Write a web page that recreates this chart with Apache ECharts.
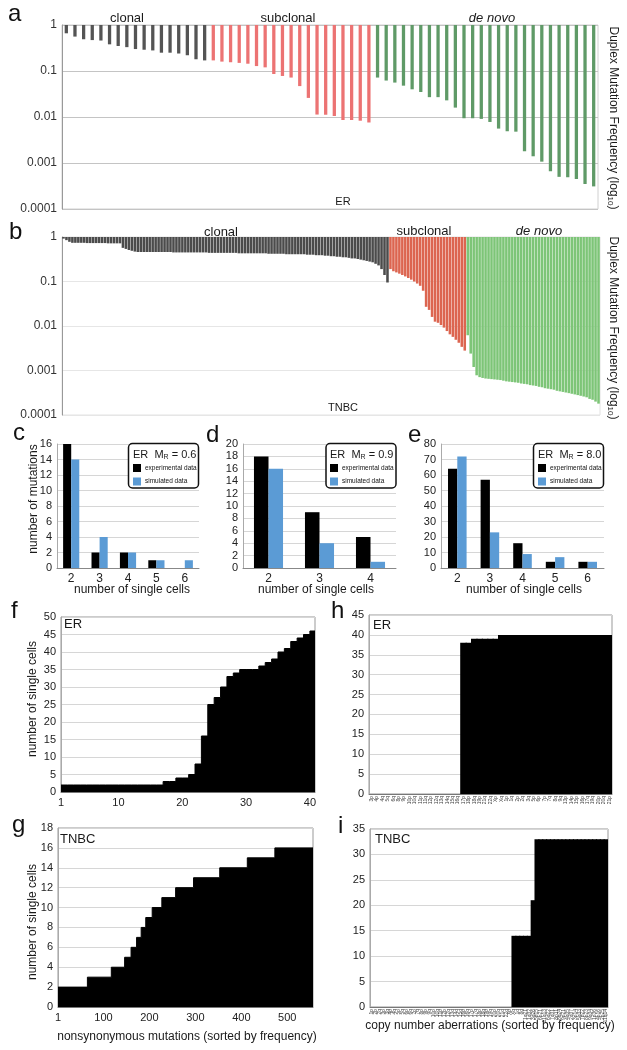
<!DOCTYPE html>
<html><head><meta charset="utf-8">
<script src="https://cdn.jsdelivr.net/npm/echarts@6/dist/echarts.min.js"></script>
<style>html,body{margin:0;padding:0;background:#fff}#c{width:627px;height:1050px}</style>
</head><body><div id="c"></div>
<script>
// ---------- DATA ----------
// a: ER duplex mutation frequency
const erClonal = [0.66,0.56,0.49,0.47,0.46,0.38,0.35,0.33,0.30,0.29,0.28,0.25,0.25,0.24,0.22,0.18,0.17];
const erSubclonal = [0.17,0.16,0.155,0.15,0.144,0.128,0.12,0.086,0.078,0.072,0.047,0.026,0.0113,0.0112,0.0105,0.0086,0.0086,0.0083,0.0076];
const erDeNovo = [0.072,0.062,0.056,0.048,0.040,0.035,0.027,0.027,0.023,0.016,0.0094,0.0094,0.0091,0.0078,0.0056,0.0049,0.0048,0.0018,0.0014,0.00107,0.00066,0.0005,0.00049,0.00045,0.00035,0.00031];
// b: TNBC duplex mutation frequency
const tnbcClonal = [
 0.92,0.85,0.78,
 0.74,0.74,0.74,0.74,0.74,0.73,0.73,0.73,0.73,0.73,0.73,0.73,0.72,0.72,0.72,0.72,0.72,
 0.57,0.54,0.51,0.49,0.47,
 0.46,0.46,0.46,0.46,0.46,0.46,0.46,0.46,0.46,0.46,0.46,0.46,
 0.45,0.45,0.45,0.45,0.45,0.45,0.45,0.45,0.45,0.45,0.45,0.45,
 0.44,0.44,0.44,0.44,0.44,0.44,0.44,0.44,0.44,0.44,
 0.43,0.43,0.43,0.43,0.43,0.43,0.43,0.43,0.43,0.43,
 0.42,0.42,0.42,0.42,0.42,0.42,
 0.41,0.41,0.41,0.41,0.41,
 0.41,0.41,0.40,0.40,0.40,0.39,0.39,0.39,0.38,0.38,0.37,0.37,0.36,0.36,0.35,
 0.35,0.34,0.33,0.33,0.32,0.31,0.30,0.29,0.28,0.27,0.25,0.23,0.19,0.14,0.095];
const tnbcSubclonal = [0.19,0.17,0.16,0.15,0.14,0.13,0.12,0.11,0.10,0.09,0.08,0.062,0.027,0.023,0.016,0.0125,0.0118,0.0105,0.0092,0.0077,0.0065,0.0057,0.0049,0.0042,0.0034,0.0028];
const tnbcDeNovo = [0.0062,0.0024,0.0012,0.00078,0.00071,0.00068,0.00066,0.00065,0.00064,0.00063,0.00062,0.00061,0.00059,0.00057,0.00056,0.00055,0.00054,0.00053,0.00051,0.00050,0.00049,0.00047,0.00046,0.00045,0.00043,0.00042,0.00040,0.00039,0.00038,0.00037,0.00035,0.00034,0.00033,0.00032,0.00031,0.00030,0.00029,0.00028,0.00027,0.00026,0.00025,0.00023,0.00022,0.00020,0.00018];
// c, d, e: number of mutations vs number of single cells
const cCats = ['2','3','4','5','6'];
const cExp = [16,2,2,1,0];
const cSim = [14,4,2,1,1];
const dCats = ['2','3','4'];
const dExp = [18,9,5];
const dSim = [16,4,1];
const eCats = ['2','3','4','5','6'];
const eExp = [64,57,16,4,4];
const eSim = [72,23,9,7,4];
// f: ER, number of single cells per nonsynonymous mutation (1..40)
const fCells = [2,2,2,2,2,2,2,2,2,2,2,2,2,2,2,2,3,3,4,4,5,8,16,25,27,30,33,34,35,35,35,36,37,38,40,41,43,44,45,46];
const fTicks = [1,10,20,30,40];
// g: TNBC, step starts (mutation rank) and number of single cells
const gStart = [1,65,117,146,160,172,182,192,206,227,257,296,353,413,473];
const gCells = [2,3,4,5,6,7,8,9,10,11,12,13,14,15,16];
const gTicks = [1,100,200,300,400,500];
// h: ER copy number aberrations
const hLabels = ['3p','4p','4q','5q','6q','8p','9p','10p','10q','11p','11q','12p','12q','13q','14q','15q','16q','17p','18p','18q','19p','21q','22q','Xp','Xq','1p','1q','2p','2q','3q','5p','6p','7p','7q','8q','9q','13p','14p','15p','16p','17q','19q','20p','20q','21p'];
const hCells = [0,0,0,0,0,0,0,0,0,0,0,0,0,0,0,0,0,38,38,39,39,39,39,39,40,40,40,40,40,40,40,40,40,40,40,40,40,40,40,40,40,40,40,40,40];
// i: TNBC copy number aberrations
const iLabels = ['1p','2p','2q','3p','3q','4p','4q','5p','5q','6p','6q','7p','7q','8p','9p','9q','10p','10q','11p','12p','12q','13q','14q','15q','16p','16q','17p','17q','18p','18q','19p','19q','20p','20q','21q','22q','Xp','Xq','1q','8q','1q21','1q32','3q26','5p15','6p21','11q13','6q22','7q31','8p11','8q24','9p21','4q35','2q37','3p14','5q33','7p22','8p23','9q34','1p36','4p16','2p25','11q14'];
const iCells = [0,0,0,0,0,0,0,0,0,0,0,0,0,0,0,0,0,0,0,0,0,0,0,0,0,0,0,0,0,0,0,0,0,0,0,0,0,14,14,14,14,14,21,33,33,33,33,33,33,33,33,33,33,33,33,33,33,33,33,33,33,33];

// ---------- STYLE ----------
const FONT = '"Liberation Sans", Arial, Helvetica, sans-serif';
const COL = {
  aClonal:'#545454', aSub:'#ec7373', aDeNovo:'#5f9a67',
  bClonal:'#4b4b4b', bSub:'#dc6550', bDeNovo:'#7dc577',
  exp:'#000000', sim:'#5b9bd5'
};
const F_XMAX = 40.8, G_XMAX = 556;

const chart = echarts.init(document.getElementById('c'), null, {renderer:'canvas'});

const decade = v => v === 0 ? '1' : Math.pow(10, v).toFixed(-v);
const toBars = (arr, color) => arr.map(v => ({value: Math.log10(v), itemStyle:{color}}));

const aData = [].concat(toBars(erClonal, COL.aClonal), toBars(erSubclonal, COL.aSub), toBars(erDeNovo, COL.aDeNovo));
const bData = [].concat(toBars(tnbcClonal, COL.bClonal), toBars(tnbcSubclonal, COL.bSub), toBars(tnbcDeNovo, COL.bDeNovo));
const aCats = aData.map((_, i) => String(i + 1));
const bCats = bData.map((_, i) => String(i + 1));

const fPts = fCells.map((v, i) => [i + 1, v]); fPts.push([F_XMAX, fCells[fCells.length - 1]]);
const gPts = gStart.map((s, k) => [s, gCells[k]]); gPts.push([G_XMAX, gCells[gCells.length - 1]]);

const lab = (o) => Object.assign({fontFamily: FONT, color:'#222'}, o);
const G = (l, t, w, h, o) => Object.assign({left:l, top:t, width:w, height:h, outerBoundsMode:'none', containLabel:false}, o || {});

const grids = [
  G(62, 25, 536, 184, {show:true, borderColor:'#d0d0d0', borderWidth:1}),   // 0 a
  G(62, 237, 538, 178, {show:true, borderColor:'#e2e2e2', borderWidth:1}),  // 1 b
  G(57, 444, 142, 124),   // 2 c
  G(243, 444, 153, 124),  // 3 d
  G(441, 444, 163, 124),  // 4 e
  G(61, 617, 254, 175, {show:true, borderColor:'#999', borderWidth:1}),   // 5 f
  G(369, 615, 243, 179, {show:true, borderColor:'#999', borderWidth:1}),  // 6 h
  G(58, 828, 255, 179, {show:true, borderColor:'#999', borderWidth:1}),   // 7 g
  G(370, 829, 238, 178, {show:true, borderColor:'#999', borderWidth:1})   // 8 i
];

const hiddenCat = (gi, data) => ({gridIndex:gi, type:'category', data, axisLine:{show:false}, axisTick:{show:false}, axisLabel:{show:false}, splitLine:{show:false}});
const logY = (gi, split) => ({gridIndex:gi, type:'value', min:-4, max:0, interval:1,
  axisLine:{show:true, lineStyle:{color:'#999'}}, axisTick:{show:false},
  axisLabel:lab({formatter:decade, fontSize:12, margin:5, color:'#333'}),
  splitLine:{show:true, lineStyle:{color:split, width:1}}});
const barCatX = (gi, data) => ({gridIndex:gi, type:'category', data, axisLine:{show:true, lineStyle:{color:'#888'}}, axisTick:{show:false}, axisLabel:lab({fontSize:12, margin:5}), splitLine:{show:false}});
const linY = (gi, max, interval, o) => Object.assign({gridIndex:gi, type:'value', min:0, max, interval,
  axisLine:{show:true, lineStyle:{color:'#aaa'}}, axisTick:{show:false},
  axisLabel:lab({fontSize:11, margin:5}),
  splitLine:{show:true, lineStyle:{color:'#d6d6d6'}}}, o || {});
const tinyCatX = (gi, data) => ({gridIndex:gi, type:'category', data, axisLine:{show:true, lineStyle:{color:'#777'}}, axisTick:{show:false},
  axisLabel:lab({fontSize:5, rotate:90, interval:0, margin:2, color:'#444'}), splitLine:{show:false}});
const valX = (gi, min, max, ticks) => ({gridIndex:gi, type:'value', min, max,
  axisLine:{show:true, lineStyle:{color:'#777'}}, axisTick:{show:false},
  axisLabel:lab({fontSize:11, margin:5, customValues:ticks}), splitLine:{show:false}});

const xAxes = [
  hiddenCat(0, aCats), hiddenCat(1, bCats),
  barCatX(2, cCats), barCatX(3, dCats), barCatX(4, eCats),
  valX(5, 1, F_XMAX, fTicks),
  tinyCatX(6, hLabels),
  valX(7, 1, G_XMAX, gTicks),
  tinyCatX(8, iLabels)
];
const yAxes = [
  logY(0, '#c4c4c4'), logY(1, '#e6e6e6'),
  linY(2, 16, 2), linY(3, 20, 2), linY(4, 80, 10),
  linY(5, 50, 5), linY(6, 45, 5), linY(7, 18, 2), linY(8, 35, 5)
];

const pair = (gi, exp, sim) => [
  {type:'bar', name:'experimental data', xAxisIndex:gi, yAxisIndex:gi, data:exp, itemStyle:{color:COL.exp}, barGap:'0%', barCategoryGap:'43%'},
  {type:'bar', name:'simulated data', xAxisIndex:gi, yAxisIndex:gi, data:sim, itemStyle:{color:COL.sim}, barGap:'0%', barCategoryGap:'43%'}
];
const stepArea = (gi, pts) => ({type:'line', xAxisIndex:gi, yAxisIndex:gi, data:pts, step:'end', symbol:'none',
  lineStyle:{color:'#000', width:1}, areaStyle:{color:'#000', opacity:1}});
const fillBars = (gi, data, w) => ({type:'bar', xAxisIndex:gi, yAxisIndex:gi, data, barWidth:w,
  itemStyle:{color:'#000'}});

const series = [
  {type:'bar', xAxisIndex:0, yAxisIndex:0, data:aData, barCategoryGap:'62%'},
  {type:'bar', xAxisIndex:1, yAxisIndex:1, data:bData, barCategoryGap:'14%'},
  ...pair(2, cExp, cSim), ...pair(3, dExp, dSim), ...pair(4, eExp, eSim),
  stepArea(5, fPts),
  fillBars(6, hCells, 6.6),
  stepArea(7, gPts),
  fillBars(8, iCells, 5)
];

const legendAt = (left) => ({left, top:464, orient:'vertical', icon:'rect', itemWidth:8, itemHeight:8, itemGap:5.5, padding:0,
  selectedMode:false, z:60, textStyle:{fontFamily:FONT, fontSize:6.5, color:'#111', padding:[0,0,0,-1]},
  data:['experimental data','simulated data']});

const T = [];
function txt(x, y, text, o) {
  o = o || {};
  T.push({type:'text', x, y, rotation:o.rot || 0, z:100,
    style:{text, fontSize:o.size || 12, fontFamily:FONT, fontStyle:o.italic ? 'italic' : 'normal',
      fill:o.color || '#1a1a1a', align:o.align || 'center', verticalAlign:'middle', rich:o.rich}});
}
const SUB10 = {s:{fontSize:8, fontFamily:FONT, fill:'#1a1a1a', verticalAlign:'bottom', padding:[5,0,0,0]}};
const SUBR = {s:{fontSize:7, fontFamily:FONT, fill:'#1a1a1a', verticalAlign:'bottom', padding:[4,0,0,0]}};

// panel letters
[['a',8,14],['b',9,232],['c',13,433],['d',206,435],['e',408,435],['f',11,611],['h',331,611],['g',12,825],['i',338,826]]
  .forEach(([t,x,y]) => txt(x, y, t, {size:24, align:'left', color:'#111'}));
// a
txt(127, 18, 'clonal', {size:13}); txt(288, 18, 'subclonal', {size:13}); txt(492, 18, 'de novo', {size:13, italic:true});
txt(343, 202, 'ER', {size:11});
txt(613, 118, 'Duplex Mutation Frequency (log{s|10})', {size:12, rot:-Math.PI/2, rich:SUB10});
// b
txt(221, 232, 'clonal', {size:13}); txt(424, 231, 'subclonal', {size:13}); txt(539, 231, 'de novo', {size:13, italic:true});
txt(343, 408, 'TNBC', {size:11});
txt(613, 328, 'Duplex Mutation Frequency (log{s|10})', {size:12, rot:-Math.PI/2, rich:SUB10});
// c d e
txt(34, 499, 'number of mutations', {size:12, rot:Math.PI/2});
txt(132, 590, 'number of single cells', {size:12});
txt(316, 590, 'number of single cells', {size:12});
txt(524, 590, 'number of single cells', {size:12});
const boxes = [[128.5, 133, 'ER  M{s|R} = 0.6'], [326, 330, 'ER  M{s|R} = 0.9'], [533.5, 538, 'ER  M{s|R} = 8.0']];
const rects = boxes.map(([bx]) => ({type:'rect', z:50, shape:{x:bx, y:443.5, width:70, height:44.5, r:4}, style:{fill:'#fff', stroke:'#111', lineWidth:1.5}}));
boxes.forEach(([bx, lx, t]) => txt(lx, 455, t, {size:11, align:'left', rich:SUBR}));
// f g h i
txt(33, 699, 'number of single cells', {size:12, rot:Math.PI/2});
txt(33, 922, 'number of single cells', {size:12, rot:Math.PI/2});
txt(64, 624, 'ER', {size:13, align:'left'});
txt(373, 625, 'ER', {size:13, align:'left'});
txt(60, 839, 'TNBC', {size:13, align:'left'});
txt(375, 839, 'TNBC', {size:13, align:'left'});
txt(187, 1037, 'nonsynonymous mutations (sorted by frequency)', {size:12});
txt(490, 1026, 'copy number aberrations (sorted by frequency)', {size:12});

chart.setOption({
  animation:false,
  backgroundColor:'#fff',
  textStyle:{fontFamily:FONT},
  grid:grids, xAxis:xAxes, yAxis:yAxes, series,
  legend:[legendAt(133), legendAt(330), legendAt(538)],
  graphic:{elements: rects.concat(T)}
});
</script></body></html>
